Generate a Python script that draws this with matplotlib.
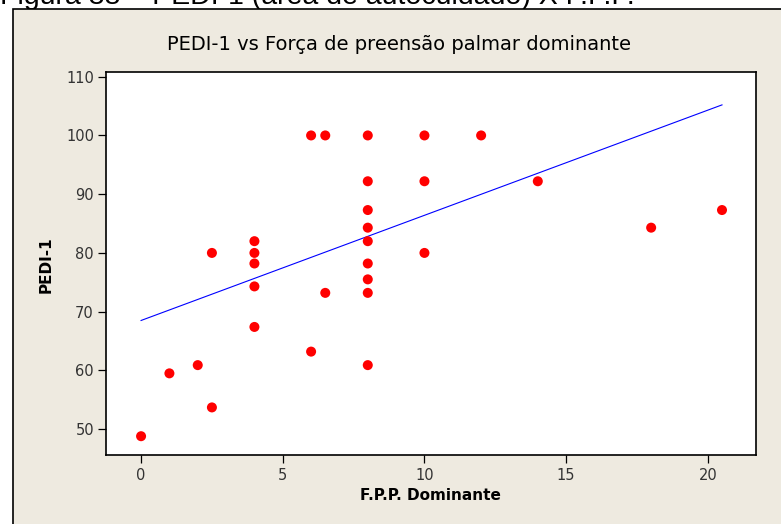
import matplotlib
matplotlib.use("Agg")
import matplotlib.pyplot as plt
from matplotlib.patches import Rectangle

# Data
fpp = [0, 1, 2, 2.5, 2.5, 4, 4, 4, 4, 4, 6, 6, 6.5, 6.5,
       8, 8, 8, 8, 8, 8, 8, 8, 8, 10, 10, 10, 12, 14, 18, 20.5]
pedi = [48.8, 59.5, 60.9, 53.7, 80.0, 82.0, 80.0, 78.2, 74.3, 67.4, 100.0, 63.2, 100.0, 73.2,
        100.0, 92.2, 87.3, 84.3, 82.0, 78.2, 75.5, 73.2, 60.9, 100.0, 92.2, 80.0, 100.0, 92.2, 84.3, 87.3]
# fitted line as drawn in the reference (endpoints)
fit_x = [0, 20.5]
fit_y = [68.5, 105.2]

x_ticks = [0, 5, 10, 15, 20]
y_ticks = [50, 60, 70, 80, 90, 100, 110]

W, H = 781, 524
fig = plt.figure(figsize=(W / 100, H / 100), dpi=100)
fig.patch.set_facecolor("white")

bg = "#EEEAE0"
frame = Rectangle((12.5 / W, -0.02), 1.1, 1 - 8.5 / H + 0.02, transform=fig.transFigure,
                  facecolor=bg, edgecolor="black", linewidth=1.2, zorder=-1)
fig.patches.append(frame)

fig.text(0.0, 1 - 4 / H, "Figura 38 \u2013 PEDI-1 (área de autocuidado) X F.P.P.",
         family="Liberation Sans", fontsize=20.5, va="baseline", ha="left", color="black",
         zorder=-2)

ax = fig.add_axes([106.5 / W, 1 - 455 / H, (756 - 106.5) / W, (455 - 71.7) / H])
ax.set_facecolor("white")
ax.scatter(fpp, pedi, s=52, color="#FF0000", edgecolors="none", zorder=3)
ax.plot(fit_x, fit_y, color="#0000FF", linewidth=0.8, zorder=2)

ax.set_xlim(-1.22, 21.7)
ax.set_ylim(45.6, 110.85)
ax.set_xticks(x_ticks)
ax.set_yticks(y_ticks)
ax.tick_params(direction="out", length=6, width=0.9, color="black",
               labelsize=10.5, labelcolor="#333333", pad=3)
for s in ax.spines.values():
    s.set_linewidth(1.2)
    s.set_color("black")
ax.tick_params(top=False, right=False)

fig.text(430 / W, 1 - 496 / H, "F.P.P. Dominante", ha="center", va="center",
         fontsize=11, fontweight="bold")
fig.text(46 / W, 1 - 265 / H, "PEDI-1", ha="center", va="center", rotation=90,
         fontsize=11, fontweight="bold")
fig.text(399 / W, 1 - 45 / H, "PEDI-1 vs Força de preensão palmar dominante",
         ha="center", va="center", fontsize=14)

fig.savefig("out.png", dpi=100)
